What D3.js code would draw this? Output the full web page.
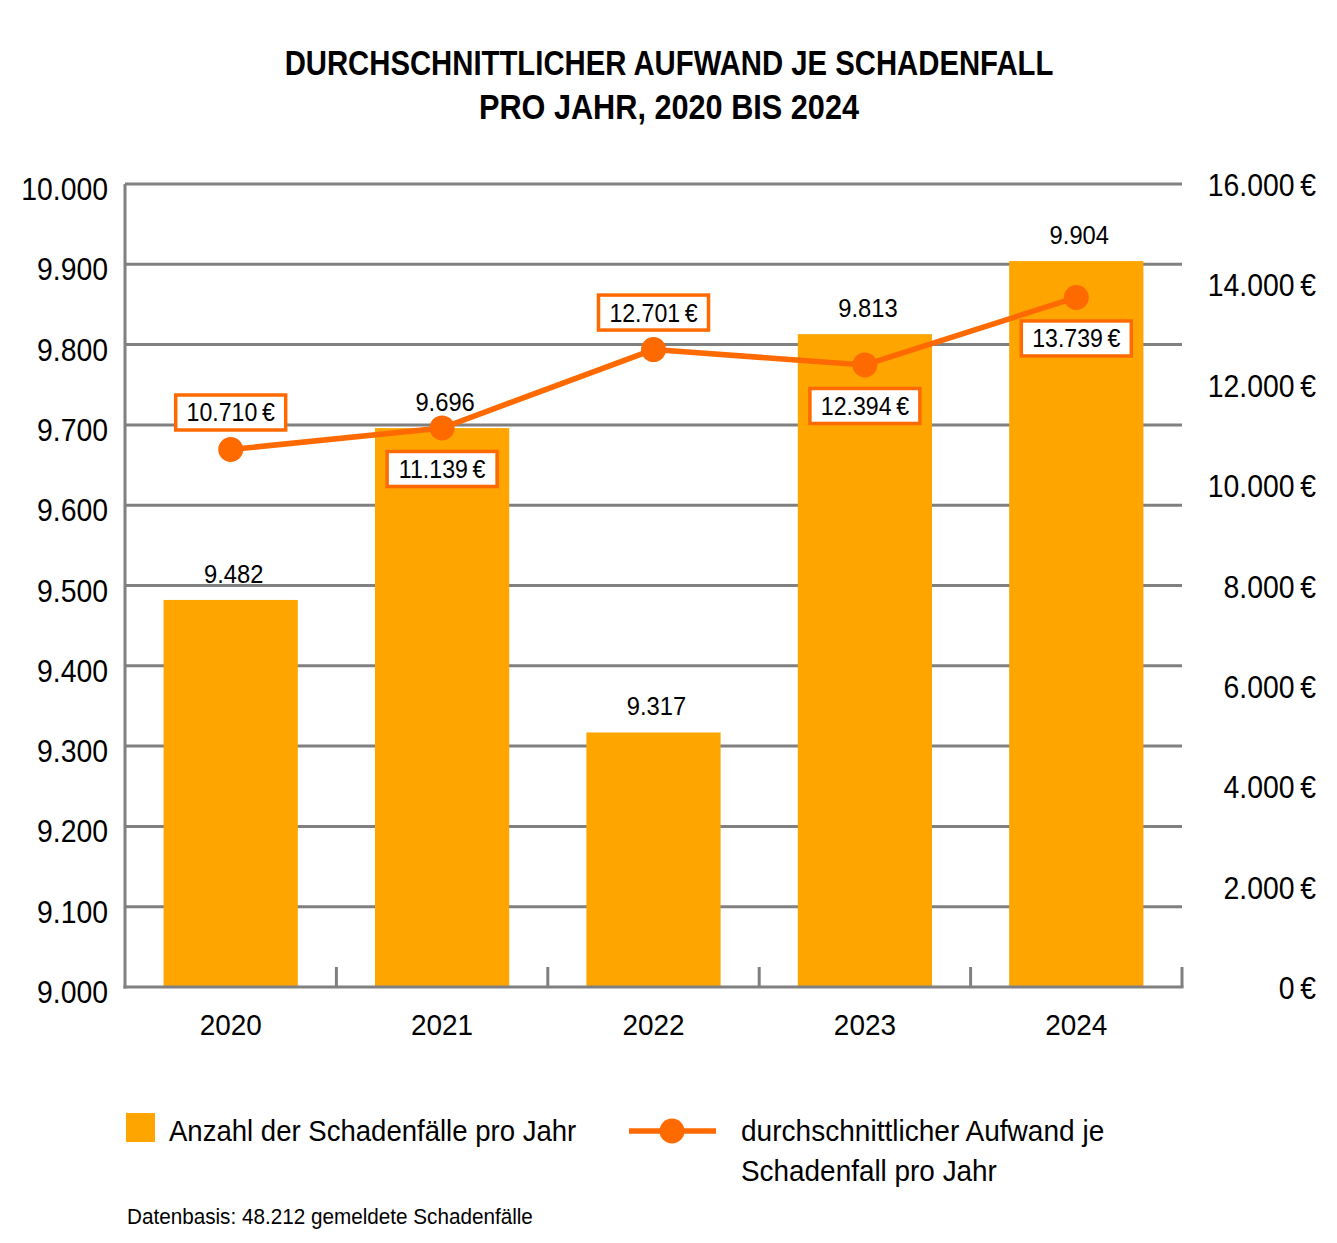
<!DOCTYPE html>
<html><head><meta charset="utf-8">
<script src="https://cdn.jsdelivr.net/npm/d3@7"></script>
<style>
body{margin:0;background:#fff;}
text{font-family:"Liberation Sans",Arial,sans-serif;fill:#000;}
</style></head><body>
<svg id="c" width="1337" height="1243"></svg>
<script>
const years = ["2020","2021","2022","2023","2024"];
const claims = [9482, 9696, 9317, 9813, 9904];
const avgCost = [10710, 11139, 12701, 12394, 13739];
const costLabelPos = ["above","below","above","below","below"];
const leftTicks = [9000,9100,9200,9300,9400,9500,9600,9700,9800,9900,10000];
const rightTicks = [0,2000,4000,6000,8000,10000,12000,14000,16000];
const titleLines = ["DURCHSCHNITTLICHER AUFWAND JE SCHADENFALL","PRO JAHR, 2020 BIS 2024"];

const svg = d3.select("#c");
const L=125, R=1182, T=184, B=987;
const fmt = v => d3.format(",")(v).replace(/,/g,".");
const barColor="#FFA500", lineColor="#FF6A00", gridColor="#808080";
function squeeze(sel,k){ sel.each(function(){ const kk = typeof k==="function"? k.apply(this, arguments): k; const l=this.getComputedTextLength(); d3.select(this).attr("textLength",l*kk).attr("lengthAdjust","spacingAndGlyphs"); }); return sel; }

const x = d3.scaleBand().domain(years).range([L,R]).padding(0);
const yL = d3.scaleLinear().domain([9000,10000]).range([B,T]);
const yR = d3.scaleLinear().domain([0,16000]).range([B,T]);

// title
const titleK=[0.837,0.876];
squeeze(svg.append("g").selectAll("text").data(titleLines).join("text")
  .attr("x",669).attr("y",(d,i)=>75+i*44).attr("text-anchor","middle")
  .style("font-weight","bold").style("font-size","35px").text(d=>d), (d,i)=>titleK[i]);

// gridlines
svg.append("g").selectAll("line").data(leftTicks.slice(1)).join("line")
  .attr("x1",L).attr("x2",R).attr("y1",d=>yL(d)).attr("y2",d=>yL(d))
  .attr("stroke",gridColor).attr("stroke-width",3);

// bars
const bw = x.bandwidth()*0.635;
svg.append("g").selectAll("rect").data(years).join("rect")
  .attr("x",d=>x(d)+x.bandwidth()/2-bw/2).attr("width",bw)
  .attr("y",(d,i)=>yL(claims[i])).attr("height",(d,i)=>B-yL(claims[i]))
  .attr("fill",barColor);

// bar labels
squeeze(svg.append("g").selectAll("text").data(years).join("text")
  .attr("x",d=>x(d)+x.bandwidth()/2+3).attr("y",(d,i)=>yL(claims[i])-17)
  .attr("text-anchor","middle").style("font-size","25px").text((d,i)=>fmt(claims[i])), 0.95);

// axes lines
svg.append("line").attr("x1",L).attr("x2",L).attr("y1",T).attr("y2",B+1.5).attr("stroke",gridColor).attr("stroke-width",3);
svg.append("line").attr("x1",L-1.5).attr("x2",R+1.5).attr("y1",B).attr("y2",B).attr("stroke",gridColor).attr("stroke-width",3);
svg.append("g").selectAll("line").data(years).join("line")
  .attr("x1",d=>x(d)+x.bandwidth()).attr("x2",d=>x(d)+x.bandwidth())
  .attr("y1",B-20).attr("y2",B).attr("stroke",gridColor).attr("stroke-width",3);

// left ticks
squeeze(svg.append("g").selectAll("text").data(leftTicks).join("text")
  .attr("x",108).attr("y",d=>yL(d)+16).attr("text-anchor","end")
  .style("font-size","31px").text(d=>fmt(d)), 0.915);
// right ticks
squeeze(svg.append("g").selectAll("text").data(rightTicks).join("text")
  .attr("x",1316).attr("y",d=>yR(d)+12).attr("text-anchor","end")
  .style("font-size","31px").text(d=>fmt(d)+"\u2009€"), 0.915);
// x labels
squeeze(svg.append("g").selectAll("text").data(years).join("text")
  .attr("x",d=>x(d)+x.bandwidth()/2).attr("y",B+48).attr("text-anchor","middle")
  .style("font-size","30px").text(d=>d), 0.93);

// line
const cx = d=>x(d)+x.bandwidth()/2;
const line = d3.line().x((d,i)=>cx(years[i])).y(d=>yR(d));
svg.append("path").datum(avgCost).attr("d",line).attr("fill","none")
  .attr("stroke",lineColor).attr("stroke-width",5.5);
svg.append("g").selectAll("circle").data(avgCost).join("circle")
  .attr("cx",(d,i)=>cx(years[i])).attr("cy",d=>yR(d)).attr("r",12.5).attr("fill",lineColor);

// line labels
const lg = svg.append("g").selectAll("g").data(avgCost).join("g")
  .attr("transform",(d,i)=>`translate(${cx(years[i])},${yR(d)+(costLabelPos[i]==="above"?-37:41)})`);
lg.append("rect").attr("x",-55).attr("y",-17.5).attr("width",110).attr("height",35)
  .attr("fill","#fff").attr("stroke",lineColor).attr("stroke-width",3.5);
squeeze(lg.append("text").attr("y",9).attr("text-anchor","middle").style("font-size","25px")
  .text(d=>fmt(d)+"\u2009€"), 0.925);

// legend
svg.append("rect").attr("x",126).attr("y",1113).attr("width",29).attr("height",29).attr("fill",barColor);
const leg = svg.append("g");
leg.append("text").attr("x",169).attr("y",1141).style("font-size","30px").text("Anzahl der Schadenfälle pro Jahr").attr("data-k",0.918);
svg.append("line").attr("x1",629).attr("x2",716).attr("y1",1131).attr("y2",1131).attr("stroke",lineColor).attr("stroke-width",5.5);
svg.append("circle").attr("cx",672).attr("cy",1131).attr("r",12.5).attr("fill",lineColor);
leg.append("text").attr("x",741).attr("y",1141).style("font-size","30px").text("durchschnittlicher Aufwand je").attr("data-k",0.935);
leg.append("text").attr("x",741).attr("y",1181).style("font-size","30px").text("Schadenfall pro Jahr").attr("data-k",0.93);
squeeze(leg.selectAll("text"), function(){ return +this.getAttribute("data-k"); });
// footnote
squeeze(svg.append("text").attr("x",127).attr("y",1224).style("font-size","22px").text("Datenbasis: 48.212 gemeldete Schadenfälle"), 0.94);
</script></body></html>
